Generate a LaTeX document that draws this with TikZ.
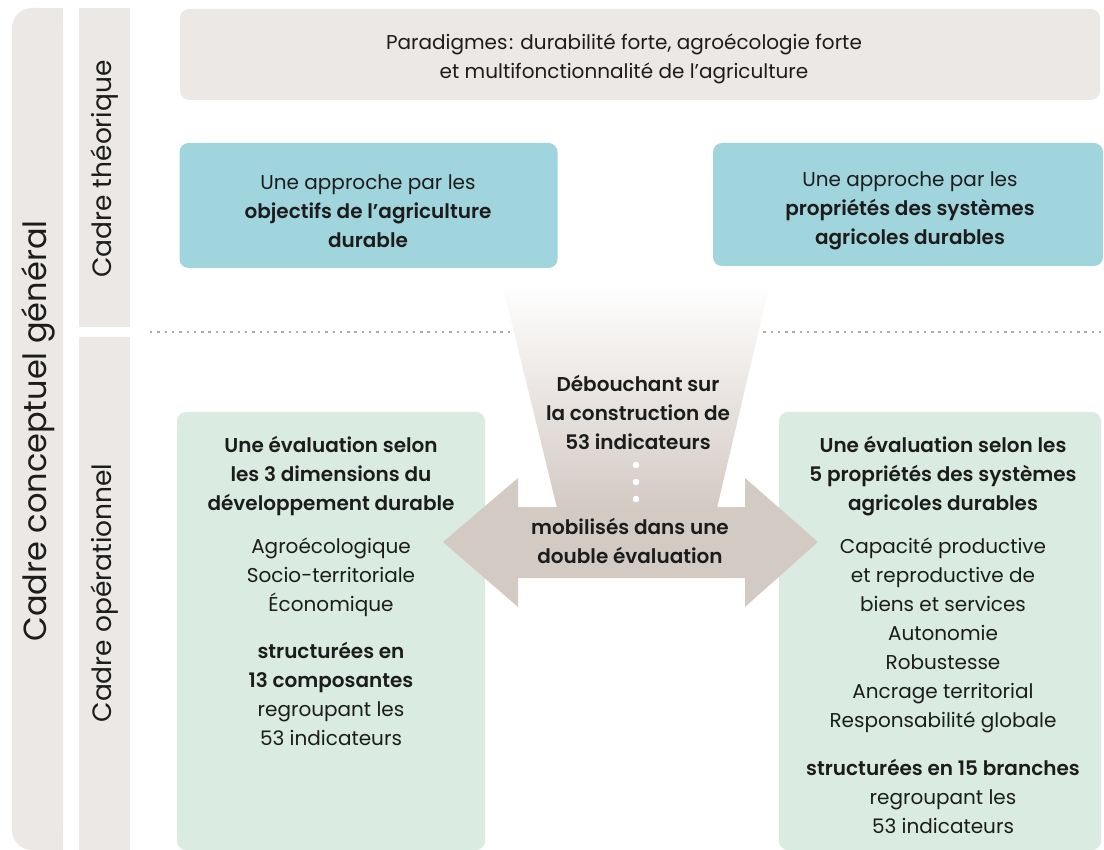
\documentclass[tikz,border=0pt]{standalone}
\usepackage{fontspec}
\setmainfont{Poppins}[BoldFont={Poppins SemiBold}]
\definecolor{barc}{HTML}{ECE8E5}
\definecolor{bluec}{HTML}{A0D5DD}
\definecolor{greenc}{HTML}{DAECE2}
\definecolor{taupe}{HTML}{D4CAC4}
\definecolor{dotc}{HTML}{B5A9A2}
\definecolor{textc}{HTML}{1C1C1C}
\begin{document}
\begin{tikzpicture}[x=1pt,y=-1pt,
  txt/.style={align=center, text=textc, inner sep=0pt, font=\fontsize{20}{29}\selectfont},
  boldtxt/.style={txt, font=\fontsize{20}{29}\selectfont\bfseries},
  vlabel/.style={text=textc, inner sep=0pt, rotate=90, font=\fontsize{26.5}{30}\selectfont},
  panel/.style={fill=#1, draw=none, rounded corners=9pt, inner sep=0pt}]
\useasboundingbox (0,0) rectangle (1104,850);
% left bars
\fill[barc, rounded corners=20pt] (12,8) rectangle (63,850);
\fill[barc] (40,8) rectangle (63,850);
\fill[barc] (79,8) rectangle (130,327);
\fill[barc] (79,337) rectangle (130,850);
\node[vlabel, font=\fontsize{32}{36}\selectfont] (general) at (38,431) {Cadre conceptuel général};
\node[vlabel] (theo) at (105,169) {Cadre théorique};
\node[vlabel] (oper) at (105,593) {Cadre opérationnel};
% paradigm box
\node[panel=barc, minimum width=920pt, minimum height=91pt] (parbox) at (640,54.5) {};
\node[txt] (partxt) at (624,59) {Paradigmes\kern1.5pt: durabilité forte, agroécologie forte\\et multifonctionnalité de l’agriculture};
% blue boxes
\node[panel=bluec, minimum width=378pt, minimum height=125pt] (objbox) at (368.5,205.5) {};
\node[txt] (objtxt) at (368,211.5) {Une approche par les\\\textbf{objectifs de l’agriculture}\\\textbf{durable}};
\node[panel=bluec, minimum width=390pt, minimum height=123pt] (propbox) at (908,204.5) {};
\node[txt] (proptxt) at (910,211) {Une approche par les\\\textbf{propriétés des systèmes}\\\textbf{agricoles durables}};
% dotted separator
\coordinate (dotL) at (150,332);
\coordinate (dotR) at (1104,332);
\draw[dotc, line width=2.4pt, dash pattern=on 2.4pt off 4.9pt] (dotL) -- (dotR);
% green boxes
\node[panel=greenc, minimum width=308pt, minimum height=438pt] (dimbox) at (331,631) {};
\node[panel=greenc, minimum width=322pt, minimum height=438pt] (probox) at (940,631) {};
% funnel
\shade[top color=white, bottom color=taupe, middle color=taupe!50!white] (502,283) -- (770,283) -- (717,508) -- (557,508) -- cycle;
% double arrow
\fill[taupe] (443,542) -- (518,478) -- (518,507) -- (745,507) -- (745,478) -- (818,542)
  -- (745,607) -- (745,578) -- (518,578) -- (518,607) -- cycle;
% funnel text
\node[boldtxt] (deb) at (638,412) {Débouchant sur\\la construction de\\53 indicateurs};
\foreach \yy/\nm in {465/d1,482/d2,499/d3}
  \fill[white] (636,\yy) circle (3.3pt);
\node[boldtxt] (mob) at (630,541) {mobilisés dans une\\double évaluation};
% left green text
\node[boldtxt] (dim1) at (331,476) {Une évaluation selon\\les 3 dimensions du\\développement durable};
\node[txt] (dim2) at (331,577) {Agroécologique\\Socio-territoriale\\Économique};
\node[txt] (dim3) at (331,693.5) {\textbf{structurées en}\\\textbf{13 composantes}\\regroupant les\\53 indicateurs};
% right green text
\node[boldtxt] (pro1) at (943,476) {Une évaluation selon les\\5 propriétés des systèmes\\agricoles durables};
\node[txt] (pro2) at (943,635) {Capacité productive\\et reproductive de\\biens et services\\Autonomie\\Robustesse\\Ancrage territorial\\Responsabilité globale};
\node[txt] (pro3) at (943,796) {\textbf{structurées en 15 branches}\\regroupant les\\53 indicateurs};
\end{tikzpicture}
\end{document}
